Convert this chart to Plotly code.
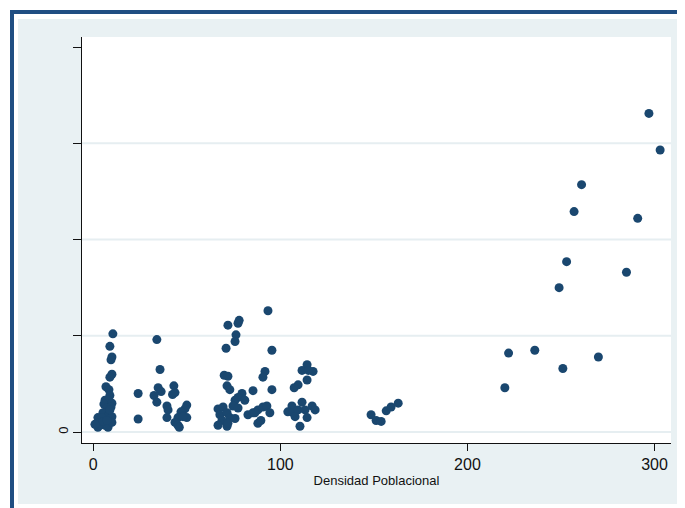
import plotly.graph_objects as go

# Population density (x) vs. outcome (y, arbitrary units: ticks 0..4)
density_low = [10.5, 8.9, 10.0, 9.5, 10.0, 8.9, 6.8, 8.4, 8.9, 6.3, 7.9, 5.7, 10.0, 7.3, 9.5,
               5.2, 8.4, 2.5, 4.7, 10.0, 2.0, 3.6, 6.3, 7.9, 10.0, 2.5, 5.2, 0.9, 7.3, 8.9,
               24, 24]
value_low = [1.02, 0.89, 0.78, 0.75, 0.60, 0.57, 0.47, 0.44, 0.38, 0.33, 0.33, 0.29, 0.30, 0.25, 0.26,
             0.20, 0.18, 0.15, 0.15, 0.16, 0.09, 0.07, 0.07, 0.05, 0.10, 0.05, 0.11, 0.08, 0.12, 0.23,
             0.40, 0.135]

density_mid1 = [34, 35.7, 34.7, 36.3, 32.5, 34, 43.1, 42.4, 43.7, 39.4, 40, 39.4, 50, 49, 46.9,
                47.5, 50, 45.3, 43.7, 45.3, 46, 48]
value_mid1 = [0.96, 0.65, 0.46, 0.42, 0.38, 0.31, 0.48, 0.39, 0.41, 0.27, 0.23, 0.15, 0.28, 0.24, 0.21,
              0.17, 0.15, 0.15, 0.10, 0.07, 0.05, 0.16]

density_mid2 = [93.4, 72, 77.4, 78, 76.3, 75.8, 71, 95.5, 70, 72, 91.8, 90.7, 71.5, 73, 85.4,
                95.5, 79.5, 77.4, 75.8, 81, 74.7, 77.4, 66.7, 69.4, 67.7, 71.5, 68.8, 73, 75.8, 66.7,
                71.5, 72, 82.7, 85.4, 88, 90.7, 92.8, 94.4, 88, 89.6, 86.4]
value_mid2 = [1.26, 1.11, 1.13, 1.16, 1.01, 0.94, 0.87, 0.85, 0.59, 0.58, 0.63, 0.57, 0.48, 0.44, 0.43,
              0.44, 0.40, 0.36, 0.33, 0.33, 0.27, 0.25, 0.24, 0.26, 0.18, 0.20, 0.12, 0.15, 0.14, 0.07,
              0.06, 0.09, 0.18, 0.20, 0.23, 0.26, 0.27, 0.20, 0.09, 0.12, 0.20]

density_mid3 = [114.3, 111.6, 117.5, 115, 114.3, 109.5, 107.4, 106.2, 104, 106.8, 111.6, 109.5, 113.2,
                114.3, 117, 118.6, 110.5, 107.9,
                148.5, 151.2, 153.9, 156.6, 159.2, 163]
value_mid3 = [0.70, 0.64, 0.63, 0.64, 0.54, 0.49, 0.46, 0.27, 0.21, 0.20, 0.31, 0.23, 0.23,
              0.15, 0.27, 0.23, 0.06, 0.16,
              0.18, 0.12, 0.11, 0.22, 0.26, 0.30]

density_high = [297, 303, 261, 257, 291, 253, 249, 285, 222, 236, 270, 251, 220]
value_high = [3.31, 2.93, 2.57, 2.29, 2.22, 1.77, 1.50, 1.66, 0.82, 0.85, 0.78, 0.66, 0.46]

x_all = density_low + density_mid1 + density_mid2 + density_mid3 + density_high
y_all = value_low + value_mid1 + value_mid2 + value_mid3 + value_high

x_ticks = [0, 100, 200, 300]
x_ticklabels = ["0", "100", "200", "300"]
y_ticks = [0, 1, 2, 3, 4]
y_ticklabels = ["0", "", "", "", ""]
y_grid = [0, 1, 2, 3]

# page body adds an 8px margin, so the figure is laid out 8px up/left of screen coords
OFF = 8
W, H = 685, 508
L, R, T, B = 82 - OFF, 671 - OFF, 37 - OFF, 443 - OFF


def px(v):
    return (v - OFF - L) / (R - L)


def py(v):
    return (B - (v - OFF)) / (B - T)


FRAME = "#1f4e82"
LIGHT = "#e9f1f3"

shapes = [
    dict(type="rect", xref="paper", yref="paper", x0=px(10), x1=px(720), y0=py(10), y1=py(540),
         fillcolor=FRAME, line_width=0, layer="below"),
    dict(type="rect", xref="paper", yref="paper", x0=px(14), x1=px(720), y0=py(14), y1=py(540),
         fillcolor="white", line_width=0, layer="below"),
    dict(type="rect", xref="paper", yref="paper", x0=px(18), x1=px(682), y0=py(19), y1=py(504),
         fillcolor=LIGHT, line_width=0, layer="below"),
    dict(type="rect", xref="paper", yref="paper", x0=0, x1=1, y0=0, y1=1,
         fillcolor="white", line_width=0, layer="below"),
]
for g in y_grid:
    shapes.append(dict(type="line", xref="paper", yref="y", x0=0, x1=1, y0=g, y1=g,
                       line=dict(color="#e6eef1", width=2), layer="below"))

fig = go.Figure()
fig.add_trace(go.Scatter(
    x=x_all, y=y_all, mode="markers",
    marker=dict(color="#1a476f", size=9, line=dict(width=0)),
    showlegend=False, hoverinfo="x+y",
))

fig.update_layout(
    width=W, height=H,
    margin=dict(l=L, r=W - R, t=T, b=H - B, pad=0),
    paper_bgcolor="white",
    plot_bgcolor="rgba(0,0,0,0)",
    font=dict(family="Liberation Sans, Arial, sans-serif", color="#111"),
    shapes=shapes,
    xaxis=dict(
        range=[-6.0, 308.8], tickvals=x_ticks, ticktext=x_ticklabels,
        showgrid=False, zeroline=False, showline=True, linecolor="#111", linewidth=1,
        ticks="outside", ticklen=7, tickcolor="#111", tickwidth=1,
        tickfont=dict(size=16, color="#111"),
        title=dict(text="Densidad Poblacional", font=dict(size=13, color="#111"), standoff=3),
    ),
    yaxis=dict(
        range=[-0.114, 4.104], tickvals=y_ticks, ticktext=y_ticklabels,
        showgrid=False, zeroline=False, showline=True, linecolor="#111", linewidth=1,
        ticks="outside", ticklen=8, tickcolor="#111", tickwidth=1,
        tickangle=-90, tickfont=dict(size=13, color="#111"),
    ),
)

fig.write_html("out.html")
